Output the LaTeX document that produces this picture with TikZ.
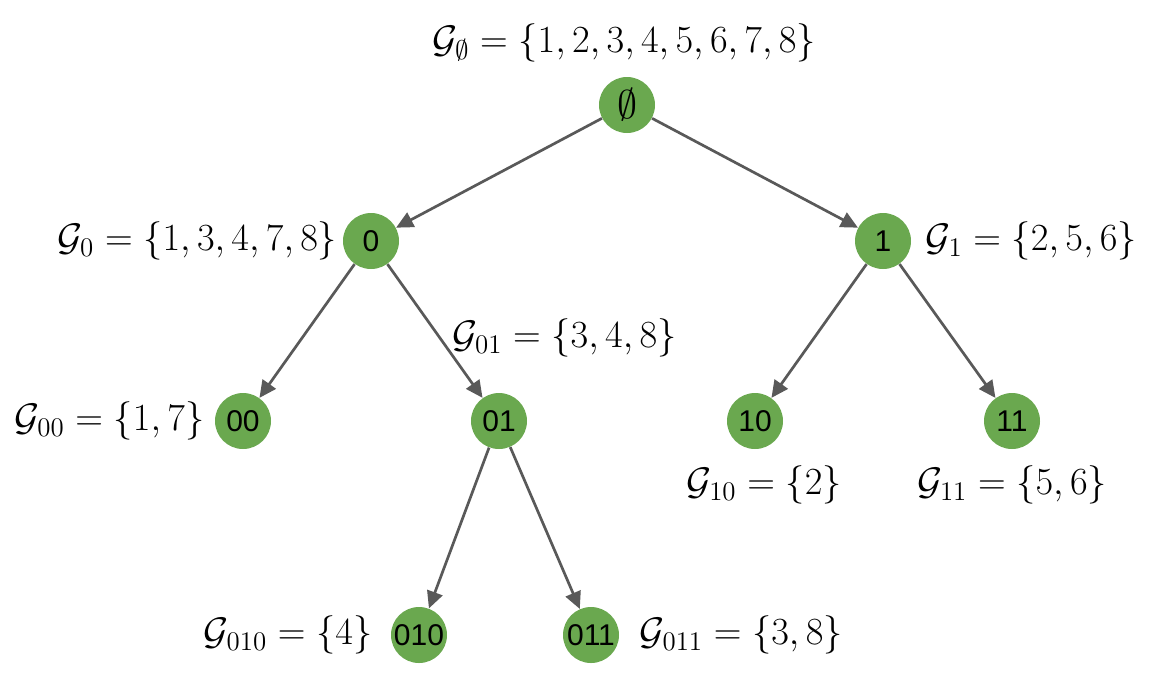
\RequirePackage{fix-cm}
\documentclass[tikz,border=0pt]{standalone}
\usepackage{amsmath,amssymb}
\usepackage{fontspec}
\newfontfamily\nodefont{Liberation Sans}
\definecolor{treegreen}{RGB}{106,168,79}
\definecolor{edgegray}{RGB}{89,89,89}
\usetikzlibrary{arrows.meta,positioning}

\tikzset{
  treenode/.style={circle, fill=treegreen, draw=none, minimum size=28pt, inner sep=0pt, font=\nodefont\fontsize{15}{17}\selectfont},
  setlabel/.style={inner sep=0pt, font=\fontsize{19.2}{23}\selectfont},
  treeedge/.style={-{Triangle[length=8.5pt,width=8pt]}, line width=1.35pt, edgegray}
}

\begin{document}
\begin{tikzpicture}[x=0.5pt, y=-0.5pt]
  \useasboundingbox (0,0) rectangle (1162,692);

  % tree nodes
  \node[treenode, font=\fontsize{20}{22}\selectfont] (nroot) at (627,105) {$\emptyset$};
  \node[treenode] (n0) at (371,241) {0};
  \node[treenode] (n1) at (883,241) {1};
  \node[treenode] (n00) at (243,421) {00};
  \node[treenode] (n01) at (499,421) {01};
  \node[treenode] (n10) at (755,421) {10};
  \node[treenode] (n11) at (1012,421) {11};
  \node[treenode] (n010) at (419,635) {010};
  \node[treenode] (n011) at (591,635) {011};

  % edges
  \draw[treeedge] (nroot) -- (n0);
  \draw[treeedge] (nroot) -- (n1);
  \draw[treeedge] (n0) -- (n00);
  \draw[treeedge] (n0) -- (n01);
  \draw[treeedge] (n1) -- (n10);
  \draw[treeedge] (n1) -- (n11);
  \draw[treeedge] (n01) -- (n010);
  \draw[treeedge] (n01) -- (n011);

  % group labels
  \node[setlabel, above=7pt of nroot, xshift=-1.5pt] (groot) {$\mathcal{G}_{\emptyset}=\{1,2,3,4,5,6,7,8\}$};
  \node[setlabel, left=2.5pt of n0] (g0) {$\mathcal{G}_{0}=\{1,3,4,7,8\}$};
  \node[setlabel, right=7pt of n1] (g1) {$\mathcal{G}_{1}=\{2,5,6\}$};
  \node[setlabel, left=5pt of n00] (g00) {$\mathcal{G}_{00}=\{1,7\}$};
  \node[setlabel, anchor=west] (g01) at (452,338) {$\mathcal{G}_{01}=\{3,4,8\}$};
  \node[setlabel, below=8pt of n10, xshift=4.5pt] (g10) {$\mathcal{G}_{10}=\{2\}$};
  \node[setlabel, below=8pt of n11] (g11) {$\mathcal{G}_{11}=\{5,6\}$};
  \node[setlabel, left=9pt of n010] (g010) {$\mathcal{G}_{010}=\{4\}$};
  \node[setlabel, right=10pt of n011] (g011) {$\mathcal{G}_{011}=\{3,8\}$};
\end{tikzpicture}
\end{document}
